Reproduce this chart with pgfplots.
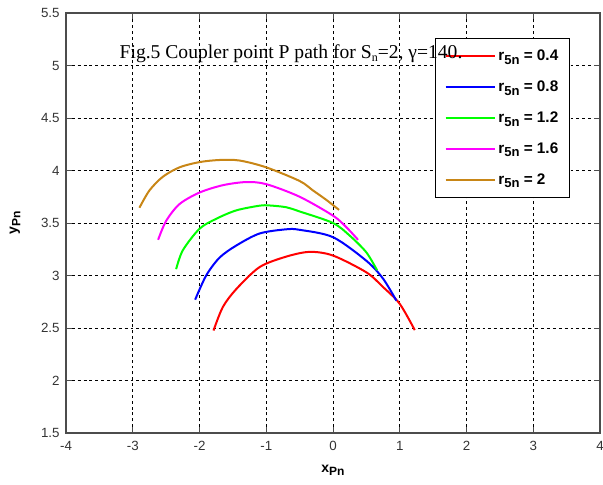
\documentclass[border=0pt]{standalone}
\usepackage{pgfplots}
\pgfplotsset{compat=1.18}
\usepackage{fontspec}
\setmainfont{Liberation Sans}
\newfontfamily\timesfont{Liberation Serif}
\definecolor{gold}{RGB}{200,134,22}
\definecolor{mag}{RGB}{255,0,255}
\definecolor{grn}{RGB}{0,255,0}
\newcommand{\rfive}[1]{\textbf{r\raisebox{-0.45ex}{\fontsize{9.8}{11}\selectfont 5n} = #1}}
\begin{document}
\begin{tikzpicture}
\begin{axis}[
  name=ax,
  scale only axis, width=400.5pt, height=315pt,
  xmin=-4, xmax=4, ymin=1.5, ymax=5.5,
  xtick={-4,-3,...,4}, ytick={1.5,2,...,5.5},
  /pgf/number format/assume math mode=true,
  ticklabel style={font=\fontsize{10}{12}\selectfont, text=black!80},
  xticklabel style={yshift=-2.5pt},
  yticklabel style={xshift=-1.3pt, /pgf/number format/.cd, fixed, precision=1},
  tick align=inside, major tick length=4.5pt,
  tick style={black!70, line width=0.6pt},
  axis line style={black!70, line width=0.8pt},
  grid=major,
  major grid style={black, line width=0.6pt, dash pattern=on 2.2pt off 2.2pt},
  xlabel={\textbf{x\raisebox{-0.45ex}{\fontsize{9}{10}\selectfont Pn}}},
  ylabel={\textbf{y\raisebox{-0.45ex}{\fontsize{9}{10}\selectfont Pn}}},
  label style={font=\fontsize{10.5}{12}\selectfont},
  xlabel style={at={(axis description cs:0.5,-0.0881)}, anchor=center},
  ylabel style={at={(axis description cs:-0.0955,0.5)}, anchor=center},
  legend style={at={(0.944,0.94)}, anchor=north east, draw=black, line width=0.7pt,
    font=\fontsize{11.5}{13}\selectfont, row sep=9.6pt, inner xsep=6.5pt, inner ysep=6.5pt,
    fill=white},
  legend cell align=left,
  legend image code/.code={\draw[#1, line width=1.5pt] (0pt,0pt) -- (36.75pt,0pt);},
]
\addplot[red, line width=1.5pt, smooth] coordinates {
(-1.79,2.476) (-1.65,2.70) (-1.45,2.87) (-1.1,3.08) (-0.7,3.18) (-0.35,3.225)
(0,3.19) (0.5,3.03) (0.75,2.89) (1.0,2.73) (1.225,2.48)};
\addlegendentry{\rfive{0.4}}
\addplot[blue, line width=1.5pt, smooth] coordinates {
(-2.065,2.77) (-1.9,3.0) (-1.7,3.17) (-1.45,3.285) (-1.1,3.40) (-0.7,3.44)
(-0.5,3.435) (0,3.365) (0.5,3.14) (0.75,2.97) (0.95,2.76)};
\addlegendentry{\rfive{0.8}}
\addplot[grn, line width=1.5pt, smooth] coordinates {
(-2.35,3.06) (-2.25,3.24) (-2.0,3.445) (-1.75,3.54) (-1.45,3.62) (-1.1,3.665)
(-0.95,3.667) (-0.7,3.65) (-0.5,3.61) (0,3.5) (0.25,3.38) (0.5,3.22) (0.66,3.05)};
\addlegendentry{\rfive{1.2}}
\addplot[mag, line width=1.5pt, smooth] coordinates {
(-2.62,3.34) (-2.5,3.52) (-2.3,3.68) (-2.0,3.79) (-1.65,3.86) (-1.3,3.89)
(-1.0,3.87) (-0.5,3.75) (0,3.57) (0.2,3.46) (0.375,3.34)};
\addlegendentry{\rfive{1.6}}
\addplot[gold, line width=1.5pt, smooth] coordinates {
(-2.9,3.645) (-2.75,3.81) (-2.55,3.94) (-2.3,4.03) (-2.0,4.08) (-1.7,4.10)
(-1.4,4.095) (-1.0,4.03) (-0.5,3.90) (-0.3,3.81) (-0.1,3.72) (0.09,3.625)};
\addlegendentry{\rfive{2}}
\coordinate (tt) at (axis cs:-3.2,5.067);
\end{axis}
\node[anchor=base west, inner sep=0pt, font=\timesfont\fontsize{14.7}{16}\selectfont] at (tt)
  {Fig.5 Coupler point P path for S\raisebox{-0.3ex}{\fontsize{9}{10}\selectfont n}=2, γ=140.};
\pgfresetboundingbox
\path[use as bounding box] ([shift={(-49.5pt,-38.25pt)}]ax.south west)
  rectangle ([shift={(2.25pt,9.75pt)}]ax.north east);
\end{tikzpicture}
\end{document}
